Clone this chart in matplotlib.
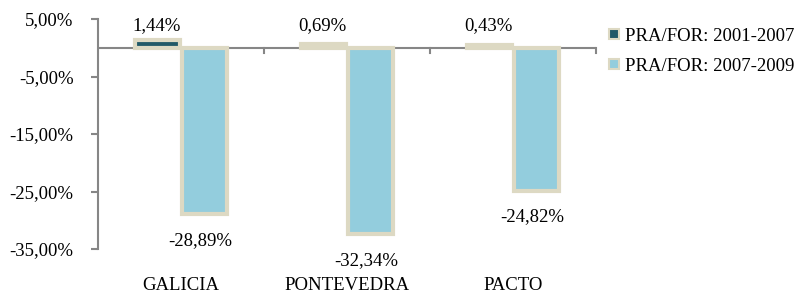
import matplotlib.pyplot as plt
from matplotlib.patches import Patch
import numpy as np

categories = ['GALICIA', 'PONTEVEDRA', 'PACTO']
series_names = ['PRA/FOR: 2001-2007', 'PRA/FOR: 2007-2009']
values_2001_2007 = [1.44, 0.69, 0.43]
values_2007_2009 = [-28.89, -32.34, -24.82]
yticks = [5, -5, -15, -25, -35]

dark = '#215968'
light = '#93CDDD'
edge = '#DDD9C3'
axis_gray = '#868686'


def fmt_pct(v):
    return ('%.2f%%' % v).replace('.', ',')


plt.rcParams['font.family'] = ['Liberation Serif', 'DejaVu Serif']
fs = 13.5

fig = plt.figure(figsize=(7.96, 2.93), dpi=100)
ax = fig.add_axes([0.123, 0.150, 0.626, 0.785])

x = np.arange(len(categories))
w = 0.27
b1 = ax.bar(x - w / 2 - 0.005, values_2001_2007, w, color=dark, edgecolor=edge,
            linewidth=3, zorder=2)
b2 = ax.bar(x + w / 2 + 0.005, values_2007_2009, w, color=light, edgecolor=edge,
            linewidth=3, zorder=2)

# positive labels sit at a common height above the zero line
for rect, v in zip(b1, values_2001_2007):
    ax.annotate(fmt_pct(v), (rect.get_x() + rect.get_width() / 2, 0),
                xytext=(-1, 16), textcoords='offset points', ha='center',
                va='center', fontsize=fs)
for rect, v in zip(b2, values_2007_2009):
    ax.annotate(fmt_pct(v), (rect.get_x() + rect.get_width() / 2, v),
                xytext=(-3, -19), textcoords='offset points', ha='center',
                va='center', fontsize=fs)

ax.set_xlim(-0.5, len(categories) - 0.5)
ax.set_ylim(-35, 5)
ax.set_yticks(yticks)
ax.set_yticklabels([fmt_pct(t) for t in yticks], fontsize=fs)
ax.set_xticks(x)
ax.set_xticklabels(categories, fontsize=fs)
ax.tick_params(axis='x', length=0, pad=20)
ax.tick_params(axis='y', length=5, width=1.5, color=axis_gray, pad=12.5)

for s in ['top', 'right', 'bottom']:
    ax.spines[s].set_visible(False)
ax.spines['left'].set_color(axis_gray)
ax.spines['left'].set_linewidth(1.5)

ax.axhline(0, color=axis_gray, linewidth=1.5, zorder=1)
for bx in np.arange(len(categories)) + 0.5:
    ax.plot([bx, bx], [0, -0.9], color=axis_gray, linewidth=1.5,
            clip_on=False, zorder=1)

handles = [Patch(facecolor=dark, edgecolor=edge, linewidth=1.5),
           Patch(facecolor=light, edgecolor=edge, linewidth=1.5)]
ax.legend(handles, series_names, loc='upper left', bbox_to_anchor=(1.0, 1.02),
          frameon=False, fontsize=fs, handlelength=0.5, handleheight=0.5,
          handletextpad=0.35, labelspacing=0.7, borderaxespad=0.3)

fig.savefig('out.png', dpi=100)
